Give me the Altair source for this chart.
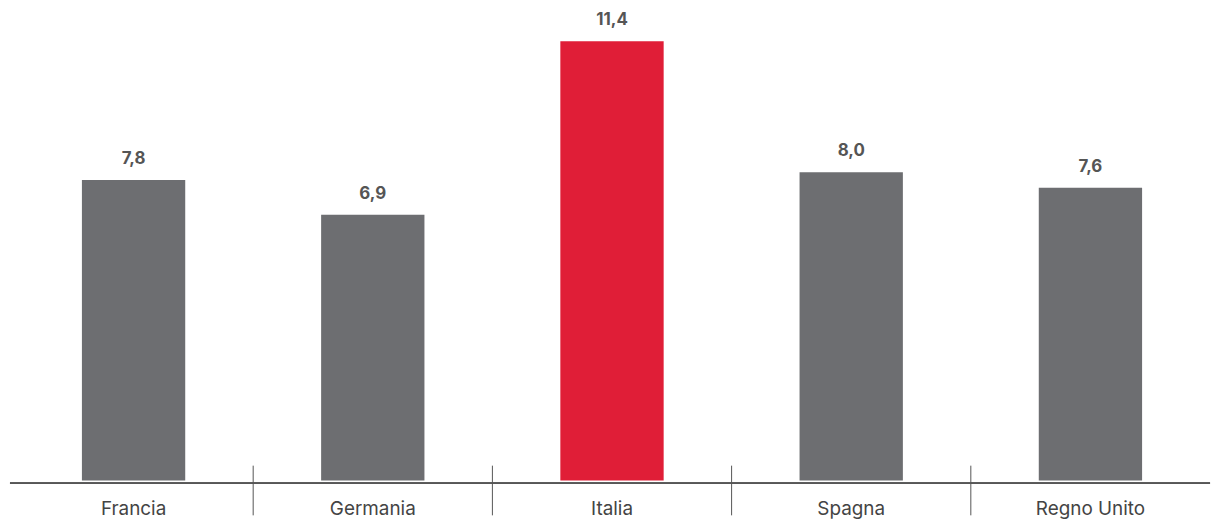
import altair as alt
import pandas as pd

countries = ["Francia", "Germania", "Italia", "Spagna", "Regno Unito"]
values = [7.8, 6.9, 11.4, 8.0, 7.6]
labels = ["7,8", "6,9", "11,4", "8,0", "7,6"]
highlight = ["no", "no", "yes", "no", "no"]

df = pd.DataFrame({"country": countries, "value": values, "label": labels, "hl": highlight})
sep_df = pd.DataFrame({"country": countries[1:]})

FONT = "Inter"
xscale = alt.Scale(domain=countries, paddingInner=0, paddingOuter=0)
x = alt.X("country:N", scale=xscale, sort=countries, axis=None)
y = alt.Y("value:Q", scale=alt.Scale(domain=[0, 11.96]), axis=None)

bars = alt.Chart(df).mark_bar(width=104).encode(
    x=x,
    y=y,
    color=alt.Color("hl:N", scale=alt.Scale(domain=["no", "yes"], range=["#6d6e71", "#e01e37"]), legend=None),
)

vals = alt.Chart(df).mark_text(
    font=FONT, fontSize=17, fontWeight="bold", color="#555555", baseline="alphabetic", dy=-16
).encode(x=x, y=y, text="label:N")

cats = alt.Chart(df).mark_text(
    font=FONT, fontSize=19, color="#444444", baseline="alphabetic"
).encode(x=x, y=alt.value(499), text="country:N")

axis_line = alt.Chart(df).mark_rule(color="#555555", strokeWidth=1).encode(
    x=alt.value(-4), x2=alt.value(1204), y=alt.value(466.5)
)

seps = alt.Chart(sep_df).mark_rule(color="#555555", strokeWidth=1).encode(
    x=alt.X("country:N", scale=xscale, sort=countries, axis=None, bandPosition=0),
    y=alt.value(449), y2=alt.value(499),
)

chart = alt.layer(bars, axis_line, seps, vals, cats).properties(
    width=1204, height=464,
    background="white",
    autosize=alt.AutoSizeParams(type="none"),
    padding={"left": 6, "top": 10, "right": 6, "bottom": 40},
).configure_view(strokeWidth=0, stroke="transparent")

chart.save("out.html", embed_options={"renderer": "svg", "actions": False})
